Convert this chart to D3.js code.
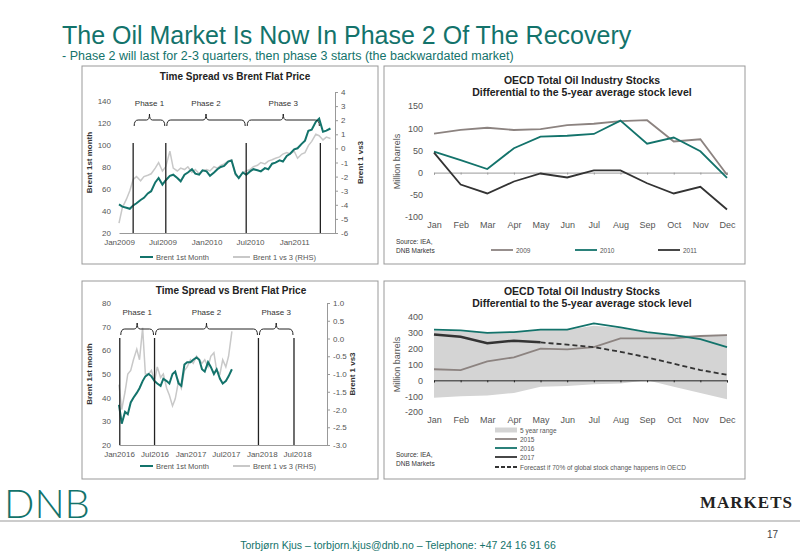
<!DOCTYPE html>
<html><head><meta charset="utf-8">
<script src="https://cdn.jsdelivr.net/npm/d3@7"></script>
<style>body{margin:0;background:#fff}svg{font-family:"Liberation Sans",Arial,sans-serif}</style>
</head><body><svg id="s" width="800" height="554"></svg>
<script>
// ---------- DATA ----------
const tl_dates = ["2009-01","2009-01-15","2009-02","2009-02-15","2009-03","2009-03-15","2009-04","2009-04-15","2009-05","2009-05-15","2009-06","2009-06-15","2009-07","2009-07-15","2009-08","2009-08-15","2009-09","2009-09-15","2009-10","2009-10-15","2009-11","2009-11-15","2009-12","2009-12-15","2010-01","2010-01-15","2010-02","2010-02-15","2010-03","2010-03-15","2010-04","2010-04-15","2010-05","2010-05-15","2010-06","2010-06-15","2010-07","2010-07-15","2010-08","2010-08-15","2010-09","2010-09-15","2010-10","2010-10-15","2010-11","2010-11-15","2010-12","2010-12-15","2011-01","2011-01-15","2011-02","2011-02-15","2011-03","2011-03-15","2011-04","2011-04-15","2011-05","2011-05-15","2011-06"];
const tl_brent = [46,44,43,42,45,47,50,52,56,58,66,70,64,68,72,73,70,67,73,75,78,74,73,77,76,72,75,78,80,81,85,86,74,70,75,73,76,78,77,76,79,78,83,84,86,85,90,92,96,97,101,104,113,114,121,124,112,113,115];
const tl_spread = [-5.3,-4.2,-3.6,-3.0,-2.2,-2.0,-2.3,-2.0,-1.9,-1.8,-1.4,-1.0,-1.6,-1.3,-0.2,-1.4,-1.6,-1.4,-1.5,-1.3,-1.7,-1.5,-1.8,-1.6,-1.5,-1.6,-1.3,-1.4,-1.2,-1.1,-0.9,-0.8,-1.9,-2.1,-1.7,-1.6,-1.5,-1.3,-1.2,-1.0,-1.1,-0.9,-0.8,-0.7,-0.6,-0.4,-0.3,-0.4,-0.2,-0.7,-0.4,-0.3,0.2,0.5,1.0,0.9,0.6,0.8,0.7];
const tl_phases = ["2009-03-01","2009-07-15","2010-06-15","2011-04-20"];
const tl_ticks = ["Jan2009","Jul2009","Jan2010","Jul2010","Jan2011"];

const bl_dates = ["2016-01","2016-01-15","2016-02","2016-02-15","2016-03","2016-03-15","2016-04","2016-04-15","2016-05","2016-05-15","2016-06","2016-06-15","2016-07","2016-07-15","2016-08","2016-08-15","2016-09","2016-09-15","2016-10","2016-10-15","2016-11","2016-11-15","2016-12","2016-12-15","2017-01","2017-01-15","2017-02","2017-02-15","2017-03","2017-03-15","2017-04","2017-04-15","2017-05","2017-05-15","2017-06","2017-06-15","2017-07","2017-07-15","2017-08"];
const bl_brent = [37,29,34,33,38,40,42,44,47,49,50,49,47,46,45,48,47,46,50,51,46,45,54,55,55,56,57,56,52,51,55,53,50,52,48,46,47,49,52];
const bl_spread = [-1.3,-2.0,-1.5,-1.0,-0.9,-0.6,-0.3,-0.6,0.3,-1.0,-1.0,-0.9,-1.2,-0.8,-1.1,-1.0,-1.4,-1.6,-1.9,-1.7,-1.2,-1.4,-0.9,-0.8,-0.6,-0.7,-0.5,-0.6,-0.7,-0.6,-0.8,-0.5,-0.4,-0.9,-1.0,-0.6,-0.8,-0.5,0.2];
const bl_phases = ["2016-01-05","2016-07-01","2017-12-15","2018-06-15"];
const bl_ticks = ["Jan2016","Jul2016","Jan2017","Jul2017","Jan2018","Jul2018"];

const months = ["Jan","Feb","Mar","Apr","May","Jun","Jul","Aug","Sep","Oct","Nov","Dec"];
const s2009 = [88,96,101,96,98,107,110,116,118,70,75,-5];
const s2010 = [47,28,8,55,81,83,87,117,65,79,48,-12];
const s2011 = [45,-27,-47,-20,-2,-11,5,5,-24,-47,-32,-83];

const rangeHi = [315,310,300,305,320,320,345,330,300,285,285,290];
const rangeLo = [-110,-100,-95,-80,-40,-35,-25,-20,0,-40,-80,-120];
const s2015 = [70,65,120,145,200,195,210,265,265,265,280,285];
const s2016 = [320,315,300,305,320,320,360,335,305,285,260,210];
const s2017 = [290,275,235,250,240];
const forecast = [null,null,null,null,240,225,210,180,145,105,65,35];

// ---------- DRAW ----------
const svg = d3.select("#s");
const TEAL="#13736b", GREY="#c8c8c8", BROWN="#8c8380", DARK="#333", AX="#555";
const P = d3.timeParse("%Y-%m-%d"), PM = d3.timeParse("%Y-%m");
const pd = s => P(s) || PM(s);
const hy = f => (d => f(d).replace("\u2212","-"));

svg.append("text").attr("x",62).attr("y",44).attr("fill",TEAL).attr("font-size",25).text("The Oil Market Is Now In Phase 2 Of The Recovery");
svg.append("text").attr("x",62).attr("y",60).attr("fill",TEAL).attr("font-size",12.5).text("- Phase 2 will last for 2-3 quarters, then phase 3 starts (the backwardated market)");

function panel(x,y,w,h){svg.append("rect").attr("x",x).attr("y",y).attr("width",w).attr("height",h).attr("fill","#fff").attr("stroke","#999").attr("stroke-width",1);}
panel(82,66,296,198); panel(384,66,361,198); panel(82,281,296,198); panel(384,281,361,198);

function styleAxis(g){g.selectAll("path,line").attr("stroke","#999");g.selectAll("text").attr("fill",AX).attr("font-size",8);}

function timeChart(o){
  const x = d3.scaleTime().domain([pd(o.x0),pd(o.x1)]).range([o.l,o.r]);
  const yL = d3.scaleLinear().domain(o.ld).range([o.b,o.t]);
  const yR = d3.scaleLinear().domain(o.rd).range([o.b,o.t]);
  svg.append("text").attr("x",(o.l+o.r)/2+8).attr("y",o.ty).attr("text-anchor","middle").attr("font-weight","bold").attr("font-size",10).attr("fill","#222").text(o.title);
  const gl = svg.append("g").attr("transform",`translate(${o.l},0)`).call(d3.axisLeft(yL).tickValues(o.lt).tickSize(0).tickPadding(8));
  gl.select("path").remove(); styleAxis(gl);
  const gr = svg.append("g").attr("transform",`translate(${o.r},0)`).call(d3.axisRight(yR).tickValues(o.rt).tickSize(3).tickFormat(hy(o.rf)));
  styleAxis(gr);
  const gb = svg.append("g").attr("transform",`translate(0,${o.b})`).call(d3.axisBottom(x).tickValues(o.xt.map(d=>d3.timeParse("%b%Y")(d))).tickSize(0).tickPadding(6).tickFormat(d3.timeFormat("%b%Y")));
  styleAxis(gb);
  svg.append("text").attr("transform",`translate(${o.l-27},${(o.t+o.b)/2}) rotate(-90)`).attr("text-anchor","middle").attr("font-size",8).attr("font-weight","bold").attr("fill","#333").text("Brent 1st month");
  svg.append("text").attr("transform",`translate(${o.r+28},${(o.t+o.b)/2}) rotate(-90)`).attr("text-anchor","middle").attr("font-size",8).attr("font-weight","bold").attr("fill","#333").text("Brent 1 vs3");
  const dts = o.dates.map(pd);
  svg.append("path").datum(o.spread).attr("fill","none").attr("stroke",GREY).attr("stroke-width",1.5)
    .attr("d",d3.line().x((d,i)=>x(dts[i])).y(d=>yR(d)));
  svg.append("path").datum(o.brent).attr("fill","none").attr("stroke",TEAL).attr("stroke-width",2)
    .attr("d",d3.line().x((d,i)=>x(dts[i])).y(d=>yL(d)));
  const ph = o.phases.map(d=>x(pd(d)));
  ph.forEach(px=>svg.append("line").attr("x1",px).attr("x2",px).attr("y1",o.pl).attr("y2",o.b).attr("stroke","#222").attr("stroke-width",1.3));
  const names=["Phase 1","Phase 2","Phase 3"];
  for(let i=0;i<3;i++){
    const a=ph[i]+1,c=ph[i+1]-1,m=(a+c)/2,yb=o.by;
    svg.append("path").attr("fill","none").attr("stroke","#222").attr("stroke-width",1)
      .attr("d",`M${a},${yb+6} Q${a},${yb} ${a+4},${yb} L${m-3},${yb} Q${m},${yb} ${m},${yb-6} Q${m},${yb} ${m+3},${yb} L${c-4},${yb} Q${c},${yb} ${c},${yb+6}`);
    svg.append("text").attr("x",m).attr("y",yb-14).attr("text-anchor","middle").attr("font-size",8).attr("fill","#333").text(names[i]);
  }
  const ly=o.ly;
  svg.append("line").attr("x1",140).attr("x2",153).attr("y1",ly).attr("y2",ly).attr("stroke",TEAL).attr("stroke-width",2);
  svg.append("text").attr("x",156).attr("y",ly+3).attr("font-size",7.5).attr("fill",AX).text("Brent 1st Month");
  svg.append("line").attr("x1",233).attr("x2",250).attr("y1",ly).attr("y2",ly).attr("stroke",GREY).attr("stroke-width",2);
  svg.append("text").attr("x",253).attr("y",ly+3).attr("font-size",7.5).attr("fill",AX).text("Brent 1 vs 3 (RHS)");
}

timeChart({title:"Time Spread vs Brent Flat Price",ty:80,l:119,r:335,t:92,b:233,x0:"2009-01",x1:"2011-06-20",
  ld:[20,20+120*141/132],lt:[20,40,60,80,100,120,140],rd:[-6,4],rt:d3.range(-6,5),rf:d3.format("d"),
  xt:tl_ticks,dates:tl_dates,brent:tl_brent,spread:tl_spread,phases:tl_phases,pl:143,by:120,ly:257});
timeChart({title:"Time Spread vs Brent Flat Price",ty:294,l:119,r:327,t:303,b:445,x0:"2016-01",x1:"2018-12-01",
  ld:[20,80],lt:[20,30,40,50,60,70,80],rd:[-3,1],rt:d3.range(-3,1.01,0.5),rf:d3.format(".1f"),
  xt:bl_ticks,dates:bl_dates,brent:bl_brent,spread:bl_spread,phases:bl_phases,pl:338,by:329,ly:466});

function monthChart(o){
  const x = d3.scalePoint().domain(months).range([434,727]);
  const y = d3.scaleLinear().domain(o.yd).range([o.b,o.t]);
  o.titles.forEach((t,i)=>svg.append("text").attr("x",582).attr("y",o.ty+i*12).attr("text-anchor","middle").attr("font-weight","bold").attr("font-size",10.5).attr("fill","#222").text(t));
  const gl = svg.append("g").attr("transform","translate(427,0)").call(d3.axisLeft(y).tickValues(o.yt).tickSize(0).tickPadding(4).tickFormat(hy(d3.format("d"))));
  gl.select("path").remove(); styleAxis(gl); gl.selectAll("text").attr("font-size",9);
  const gb = svg.append("g").attr("transform",`translate(0,${o.b})`).call(d3.axisBottom(x).tickSize(0).tickPadding(5));
  gb.select("path").remove(); styleAxis(gb); gb.selectAll("text").attr("font-size",9);
  svg.append("text").attr("transform",`translate(400,${(o.t+o.b)/2}) rotate(-90)`).attr("text-anchor","middle").attr("font-size",9).attr("fill","#555").text("Million barrels");
  if(o.area){
    svg.append("path").datum(months).attr("fill","#d4d4d4").attr("d",d3.area().x(d=>x(d)).y0((d,i)=>y(rangeLo[i])).y1((d,i)=>y(rangeHi[i])));
  }
  const z = svg.append("g").attr("transform",`translate(0,${y(0)})`).call(d3.axisBottom(x).tickSize(2).tickFormat(""));
  z.selectAll("path,line").attr("stroke",o.area?"#222":"#999");
  o.series.forEach(s=>{
    svg.append("path").datum(s.v).attr("fill","none").attr("stroke",s.c).attr("stroke-width",s.w||1.8).attr("stroke-dasharray",s.dash||null)
      .attr("d",d3.line().defined(d=>d!=null).x((d,i)=>x(months[i])).y(d=>y(d)));
  });
  svg.append("text").attr("x",396).attr("y",o.sy).attr("font-size",6.5).attr("fill","#333").text("Source: IEA,");
  svg.append("text").attr("x",396).attr("y",o.sy+9).attr("font-size",6.5).attr("fill","#333").text("DNB Markets");
  o.legend.forEach(l=>{
    svg.append("line").attr("x1",l.x).attr("x2",l.x+22).attr("y1",l.y).attr("y2",l.y).attr("stroke",l.c).attr("stroke-width",l.area?5:1.8).attr("stroke-dasharray",l.dash||null);
    svg.append("text").attr("x",l.x+25).attr("y",l.y+2.5).attr("font-size",6.5).attr("fill","#555").text(l.t);
  });
}

monthChart({titles:["OECD Total Oil Industry Stocks","Differential to the 5-year average stock level"],ty:84,
  yd:[-100,150],yt:[-100,-50,0,50,100,150],t:106,b:217,sy:244,
  series:[{v:s2009,c:BROWN},{v:s2010,c:TEAL},{v:s2011,c:DARK}],
  legend:[{x:491,y:250,c:BROWN,t:"2009"},{x:575,y:250,c:TEAL,t:"2010"},{x:658,y:250,c:DARK,t:"2011"}]});
monthChart({titles:["OECD Total Oil Industry Stocks","Differential to the 5-year average stock level"],ty:295,area:true,
  yd:[-200,400],yt:[-200,-100,0,100,200,300,400],t:317,b:412,sy:457,
  series:[{v:s2015,c:BROWN},{v:s2016,c:TEAL},{v:s2017,c:DARK,w:2.5},{v:forecast,c:DARK,w:1.8,dash:"5,3"}],
  legend:[{x:495,y:430,c:"#d4d4d4",area:true,t:"5 year range"},{x:495,y:439,c:BROWN,t:"2015"},{x:495,y:448,c:TEAL,t:"2016"},{x:495,y:457,c:DARK,t:"2017"},{x:495,y:467,c:DARK,dash:"4,2",t:"Forecast if 70% of global stock change happens in OECD"}]});

// footer
svg.append("text").attr("x",4).attr("y",518).attr("font-size",40).attr("font-weight",300).attr("fill",TEAL).attr("font-family","Lato, DejaVu Sans").text("DNB");
svg.append("text").attr("x",700).attr("y",508).attr("font-size",17).attr("font-weight","bold").attr("font-family","Liberation Serif").attr("fill","#222").attr("letter-spacing",1).text("MARKETS");
svg.append("line").attr("x1",0).attr("x2",800).attr("y1",521).attr("y2",521).attr("stroke","#999");
svg.append("text").attr("x",778).attr("y",538).attr("text-anchor","end").attr("font-size",10).attr("fill","#444").text("17");
svg.append("text").attr("x",398).attr("y",549).attr("text-anchor","middle").attr("font-size",10.5).attr("fill",TEAL).text("Torbjørn Kjus – torbjorn.kjus@dnb.no – Telephone: +47 24 16 91 66");
</script></body></html>
